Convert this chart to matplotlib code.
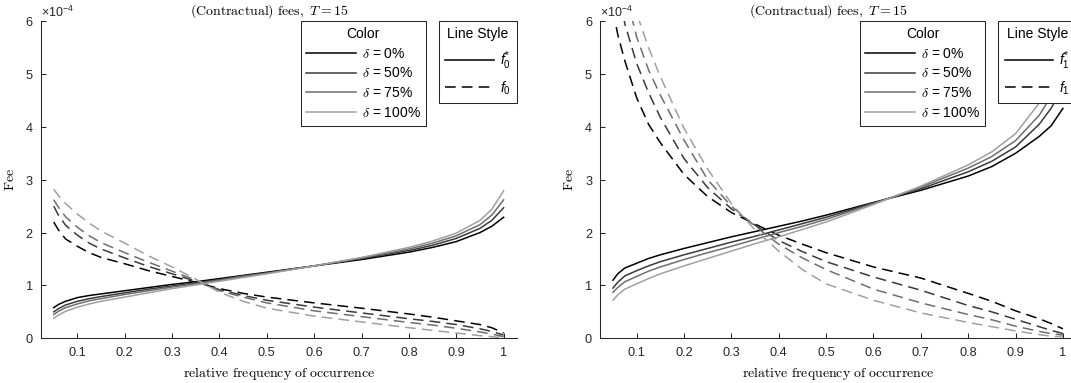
import numpy as np
import matplotlib
matplotlib.use('Agg')
import matplotlib.pyplot as plt
from matplotlib.font_manager import FontProperties

plt.rcParams['font.family'] = ['Liberation Sans', 'DejaVu Sans']
plt.rcParams['mathtext.fontset'] = 'custom'
plt.rcParams['mathtext.rm'] = 'Liberation Sans'
plt.rcParams['mathtext.it'] = 'Liberation Sans:italic'
plt.rcParams['mathtext.bf'] = 'Liberation Sans:bold'

# relative frequency of occurrence
x = [0.05, 0.06, 0.075, 0.1, 0.125, 0.15, 0.2, 0.25, 0.3, 0.35, 0.4, 0.45,
     0.5, 0.6, 0.7, 0.8, 0.85, 0.9, 0.95, 0.975, 1.0]

deltas = ['0%', '50%', '75%', '100%']
xtick_vals = [0.1, 0.2, 0.3, 0.4, 0.5, 0.6, 0.7, 0.8, 0.9, 1.0]
xtick_labels = ['0.1', '0.2', '0.3', '0.4', '0.5', '0.6', '0.7', '0.8', '0.9', '1']

# fees in units of 1e-4, left panel: f_0^* (solid) and f_0 (dashed)
f0_star = [
    [0.58, 0.64, 0.70, 0.77, 0.81, 0.84, 0.90, 0.96, 1.02, 1.07, 1.13, 1.19, 1.25, 1.37, 1.49, 1.63, 1.72, 1.83, 2.00, 2.12, 2.29],
    [0.50, 0.56, 0.63, 0.70, 0.75, 0.79, 0.86, 0.93, 0.99, 1.05, 1.11, 1.18, 1.24, 1.37, 1.51, 1.66, 1.76, 1.89, 2.08, 2.23, 2.47],
    [0.45, 0.51, 0.58, 0.65, 0.71, 0.75, 0.83, 0.90, 0.97, 1.03, 1.10, 1.17, 1.23, 1.37, 1.52, 1.69, 1.80, 1.94, 2.15, 2.33, 2.62],
    [0.38, 0.44, 0.51, 0.59, 0.65, 0.70, 0.78, 0.86, 0.94, 1.01, 1.08, 1.15, 1.22, 1.37, 1.53, 1.72, 1.84, 1.99, 2.23, 2.44, 2.79],
]
f0 = [
    [2.20, 2.05, 1.88, 1.74, 1.62, 1.53, 1.41, 1.28, 1.17, 1.06, 0.94, 0.85, 0.78, 0.67, 0.57, 0.46, 0.40, 0.33, 0.26, 0.20, 0.10],
    [2.50, 2.33, 2.14, 1.95, 1.80, 1.69, 1.52, 1.36, 1.22, 1.08, 0.92, 0.81, 0.72, 0.59, 0.48, 0.37, 0.32, 0.26, 0.18, 0.13, 0.06],
    [2.62, 2.48, 2.30, 2.10, 1.94, 1.81, 1.62, 1.44, 1.27, 1.10, 0.90, 0.78, 0.67, 0.52, 0.41, 0.30, 0.25, 0.19, 0.12, 0.08, 0.03],
    [2.82, 2.70, 2.55, 2.35, 2.18, 2.03, 1.80, 1.56, 1.35, 1.12, 0.87, 0.70, 0.57, 0.42, 0.31, 0.20, 0.15, 0.10, 0.05, 0.03, 0.01],
]

# right panel: f_1^* (solid) and f_1 (dashed)
f1_star = [
    [1.10, 1.22, 1.33, 1.42, 1.51, 1.58, 1.70, 1.81, 1.92, 2.02, 2.12, 2.22, 2.33, 2.57, 2.80, 3.07, 3.25, 3.50, 3.82, 4.02, 4.35],
    [0.95, 1.06, 1.18, 1.28, 1.37, 1.45, 1.58, 1.70, 1.82, 1.93, 2.05, 2.17, 2.29, 2.56, 2.83, 3.15, 3.35, 3.62, 4.05, 4.35, 4.75],
    [0.87, 0.96, 1.07, 1.17, 1.27, 1.35, 1.49, 1.62, 1.74, 1.87, 2.00, 2.12, 2.25, 2.55, 2.86, 3.22, 3.44, 3.74, 4.22, 4.58, 5.10],
    [0.72, 0.82, 0.93, 1.03, 1.13, 1.22, 1.37, 1.51, 1.65, 1.79, 1.92, 2.06, 2.20, 2.53, 2.88, 3.28, 3.53, 3.87, 4.45, 4.88, 5.40],
]
f1 = [
    [6.20, 5.75, 5.25, 4.55, 4.05, 3.70, 3.10, 2.68, 2.38, 2.16, 1.95, 1.78, 1.62, 1.35, 1.14, 0.85, 0.70, 0.52, 0.37, 0.28, 0.18],
    [7.20, 6.70, 5.95, 5.20, 4.65, 4.18, 3.40, 2.85, 2.45, 2.14, 1.85, 1.64, 1.45, 1.16, 0.91, 0.62, 0.50, 0.36, 0.22, 0.15, 0.09],
    [7.90, 7.30, 6.60, 5.70, 5.08, 4.60, 3.75, 3.00, 2.50, 2.12, 1.78, 1.52, 1.30, 0.93, 0.67, 0.45, 0.35, 0.23, 0.13, 0.09, 0.06],
    [8.60, 8.00, 7.20, 6.15, 5.50, 4.95, 3.97, 3.20, 2.55, 2.05, 1.65, 1.30, 1.03, 0.72, 0.48, 0.30, 0.22, 0.14, 0.07, 0.04, 0.03],
]

colors = ['#000000', '#3a3a3a', '#6e6e6e', '#a0a0a0']
axcol = '#262626'
dash = (0, (7, 4))

fig = plt.figure(figsize=(10.71, 3.83), dpi=100)
ax1 = fig.add_axes([0.038, 0.1167, 0.4444, 0.828])
ax2 = fig.add_axes([0.5602, 0.1167, 0.4444, 0.828])

panels = [(ax1, f0_star, f0, r'$f_{\mathit{0}}^{*}$', r'$f_{\mathit{0}}$'),
          (ax2, f1_star, f1, r'$f_{\mathit{1}}^{*}$', r'$f_{\mathit{1}}$')]

for ax, solid, dashed, lab_s, lab_d in panels:
    solid_lines = []
    dashed_lines = []
    for i in range(len(deltas)):
        l1, = ax.plot(x, np.array(solid[i]) * 1e-4, color=colors[i], lw=1.1)
        l2, = ax.plot(x, np.array(dashed[i]) * 1e-4, color=colors[i], lw=1.1, linestyle=dash)
        solid_lines.append(l1)
        dashed_lines.append(l2)

    ax.set_xlim(0.0225, 1.0275)
    ax.set_ylim(0, 6e-4)
    ax.set_xticks(xtick_vals)
    ax.set_xticklabels(xtick_labels)
    ax.set_yticks(np.arange(0, 7) * 1e-4)
    ax.ticklabel_format(axis='y', style='sci', scilimits=(0, 0), useMathText=True)
    ax.yaxis.get_offset_text().set_fontsize(9)
    ax.yaxis.get_offset_text().set_color(axcol)

    for s in ['top', 'right']:
        ax.spines[s].set_visible(False)
    for s in ['left', 'bottom']:
        ax.spines[s].set_color(axcol)
        ax.spines[s].set_linewidth(0.75)
    ax.tick_params(direction='in', length=3.5, width=0.75, colors=axcol, labelsize=9.2)
    ax.tick_params(axis='x', pad=6.5)
    ax.tick_params(axis='y', pad=5)

    ax.set_title(r'$\mathrm{(Contractual)\ fees,}\ T = 15$', fontsize=10,
                 math_fontfamily='cm', pad=5, x=0.48)
    ax.set_xlabel(r'$\mathrm{relative\ frequency\ of\ occurrence}$', fontsize=10,
                  math_fontfamily='cm', labelpad=4)
    ax.set_ylabel(r'$\mathrm{Fee}$', fontsize=10, math_fontfamily='cm', labelpad=6)

    prop1 = FontProperties(family='Liberation Sans', size=10, math_fontfamily='cm')
    leg1 = ax.legend(solid_lines, [r'$\delta$ = ' + d for d in deltas], title='Color',
                     loc='upper right', bbox_to_anchor=(0.81, 1.0), prop=prop1,
                     title_fontsize=10, fancybox=False, framealpha=1, edgecolor=axcol,
                     handlelength=3.6, handletextpad=0.4, labelspacing=0.42,
                     borderpad=0.4, borderaxespad=0)
    leg1.get_frame().set_linewidth(0.75)
    ax.add_artist(leg1)

    prop2 = FontProperties(family='Liberation Sans', size=10)
    leg2 = ax.legend([solid_lines[0], dashed_lines[0]], [lab_s, lab_d], title='Line Style',
                     loc='upper right', bbox_to_anchor=(1.0, 1.0), prop=prop2,
                     title_fontsize=10, fancybox=False, framealpha=1, edgecolor=axcol,
                     handlelength=3.5, handletextpad=0.4, labelspacing=0.55,
                     borderpad=0.45, borderaxespad=0)
    leg2.get_frame().set_linewidth(0.75)

fig.savefig('out.png', dpi=100)
